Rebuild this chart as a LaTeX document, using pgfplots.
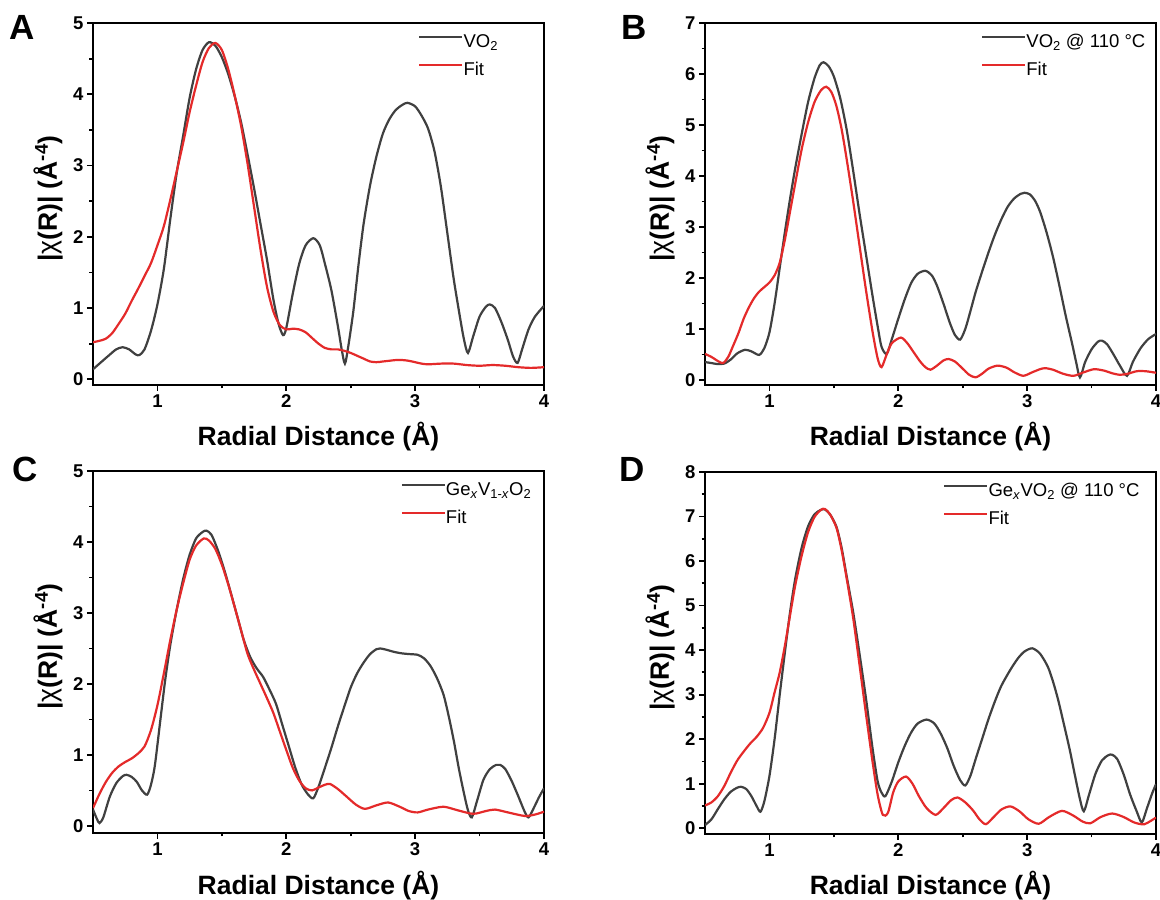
\documentclass[border=0pt]{standalone}
\usepackage{fontspec}
\setmainfont{Liberation Sans}
\usepackage{pgfplots}
\pgfplotsset{compat=1.18}

\definecolor{dgray}{RGB}{64,64,64}
\definecolor{fitred}{RGB}{228,42,42}

\pgfplotsset{
  panel/.style={
    scale only axis, width=451pt, height=362pt,
    xmin=0.5, xmax=4, xtick={1,2,3,4},
    minor x tick num=1, minor y tick num=1,
    tick align=outside, xtick pos=left, ytick pos=left,
    major tick length=6pt, minor tick length=3.5pt,
    every tick/.style={black, line width=1.8pt},
    axis line style={line width=2.2pt},
    tick label style={font=\bfseries\fontsize{18.5}{18.5}\selectfont},
    /pgf/number format/assume math mode=true,
    xlabel={Radial Distance (Å)},
    ylabel={|{\mdseries χ}(R)| (Å\textsuperscript{-4})},
    label style={font=\bfseries\fontsize{26.5}{26.5}\selectfont},
    xlabel style={at={(axis description cs:0.5,0)}, anchor=base, yshift=-61pt},
    ylabel style={at={(axis description cs:-0.08,0.515)}, anchor=base},
    legend style={draw=none, fill=none, anchor=north west, inner sep=0pt,
      font=\fontsize{18.5}{18.5}\selectfont,
      nodes={inner sep=0pt, text height=14pt, text depth=4pt},
      row sep=10pt,
      /tikz/every even column/.append style={column sep=4pt}},
    legend cell align=left,
    legend image code/.code={\draw[#1, line width=2.2pt] (0pt,6pt) -- (43pt,6pt);},
    data/.style={dgray, line width=2.2pt, smooth, tension=0.45},
    fit/.style={fitred, line width=2.2pt, smooth, tension=0.45},
  }
}

\begin{document}
\begin{tikzpicture}[x=1pt,y=1pt]

% ---------- A ----------
\begin{axis}[panel, at={(93pt,515pt)}, anchor=south west,
  ymin=-0.08, ymax=5, ytick={0,...,5}, legend style={at={(0.721,0.971)}}]
\addplot[data] coordinates {
(0.50,0.14)(0.55,0.22)(0.62,0.33)(0.68,0.42)(0.73,0.45)(0.78,0.42)(0.83,0.35)(0.86,0.34)
(0.90,0.42)(0.95,0.68)(1.00,1.05)(1.05,1.55)(1.10,2.25)(1.15,2.90)(1.20,3.42)(1.25,3.95)
(1.30,4.35)(1.35,4.62)(1.40,4.73)(1.45,4.68)(1.50,4.52)(1.55,4.28)(1.60,3.97)(1.65,3.60)
(1.70,3.15)(1.75,2.68)(1.80,2.18)(1.85,1.68)(1.90,1.12)(1.94,0.78)(1.975,0.62)(2.00,0.72)
(2.05,1.20)(2.10,1.62)(2.15,1.88)(2.21,1.98)(2.26,1.88)(2.30,1.62)(2.35,1.25)(2.40,0.75)
(2.43,0.42)(2.455,0.22)(2.48,0.45)(2.52,0.95)(2.56,1.60)(2.60,2.18)(2.65,2.72)(2.70,3.13)
(2.75,3.45)(2.80,3.65)(2.85,3.78)(2.90,3.85)(2.94,3.88)(3.00,3.83)(3.05,3.70)(3.10,3.52)
(3.15,3.20)(3.20,2.70)(3.25,2.05)(3.30,1.40)(3.35,0.85)(3.38,0.55)(3.41,0.37)(3.45,0.60)
(3.50,0.88)(3.55,1.02)(3.58,1.05)(3.62,1.00)(3.67,0.80)(3.72,0.55)(3.76,0.32)(3.795,0.23)
(3.83,0.42)(3.88,0.70)(3.93,0.88)(4.00,1.03)
};
\addplot[fit] coordinates {
(0.50,0.52)(0.55,0.54)(0.60,0.57)(0.65,0.65)(0.70,0.78)(0.75,0.92)(0.80,1.10)(0.85,1.27)
(0.90,1.45)(0.95,1.63)(1.00,1.88)(1.05,2.15)(1.10,2.52)(1.15,2.92)(1.20,3.32)(1.25,3.75)
(1.30,4.12)(1.35,4.45)(1.40,4.65)(1.45,4.72)(1.50,4.62)(1.55,4.35)(1.60,3.98)(1.65,3.55)
(1.70,3.02)(1.75,2.42)(1.80,1.82)(1.85,1.30)(1.90,0.95)(1.95,0.76)(2.00,0.70)(2.05,0.71)
(2.10,0.70)(2.15,0.66)(2.20,0.58)(2.25,0.50)(2.30,0.44)(2.35,0.42)(2.40,0.42)(2.45,0.40)
(2.50,0.37)(2.55,0.33)(2.60,0.29)(2.65,0.25)(2.70,0.24)(2.75,0.25)(2.80,0.26)(2.85,0.27)
(2.90,0.27)(2.95,0.26)(3.00,0.24)(3.05,0.22)(3.10,0.21)(3.20,0.22)(3.30,0.22)(3.40,0.20)
(3.50,0.19)(3.60,0.20)(3.70,0.19)(3.80,0.17)(3.90,0.16)(4.00,0.17)
};
\legend{VO\textsubscript{2}, Fit}
\end{axis}

% ---------- B ----------
\begin{axis}[panel, at={(705pt,515pt)}, anchor=south west,
  ymin=-0.1, ymax=7, ytick={0,...,7}, legend style={at={(0.612,0.971)}}]
\addplot[data] coordinates {
(0.50,0.35)(0.55,0.33)(0.60,0.31)(0.65,0.32)(0.70,0.40)(0.75,0.52)(0.81,0.59)(0.86,0.56)
(0.92,0.49)(0.96,0.62)(1.00,0.93)(1.04,1.50)(1.08,2.20)(1.12,2.90)(1.16,3.55)(1.20,4.15)
(1.25,4.82)(1.30,5.45)(1.35,5.92)(1.39,6.17)(1.42,6.23)(1.46,6.15)(1.50,5.95)(1.55,5.52)
(1.60,4.90)(1.65,4.10)(1.70,3.25)(1.75,2.45)(1.80,1.65)(1.84,1.05)(1.87,0.65)(1.91,0.51)
(1.95,0.80)(2.00,1.20)(2.05,1.58)(2.10,1.90)(2.15,2.08)(2.21,2.14)(2.26,2.05)(2.30,1.85)
(2.35,1.50)(2.40,1.12)(2.44,0.88)(2.48,0.79)(2.52,1.00)(2.56,1.35)(2.60,1.72)(2.65,2.12)
(2.70,2.50)(2.75,2.85)(2.80,3.15)(2.85,3.40)(2.90,3.56)(2.95,3.65)(2.98,3.67)(3.02,3.64)
(3.06,3.52)(3.10,3.30)(3.15,2.90)(3.20,2.42)(3.25,1.85)(3.30,1.25)(3.35,0.70)(3.38,0.35)
(3.41,0.05)(3.45,0.35)(3.50,0.60)(3.55,0.75)(3.58,0.77)(3.62,0.70)(3.67,0.50)(3.72,0.28)
(3.775,0.08)(3.82,0.35)(3.88,0.62)(3.94,0.80)(4.00,0.90)
};
\addplot[fit] coordinates {
(0.50,0.51)(0.55,0.45)(0.60,0.37)(0.64,0.33)(0.68,0.45)(0.72,0.68)(0.76,0.92)(0.80,1.20)
(0.84,1.42)(0.88,1.60)(0.92,1.73)(0.96,1.82)(1.00,1.91)(1.04,2.05)(1.08,2.30)(1.12,2.75)
(1.16,3.30)(1.20,3.85)(1.25,4.52)(1.30,5.05)(1.35,5.45)(1.40,5.68)(1.44,5.75)(1.48,5.65)
(1.52,5.37)(1.56,4.92)(1.60,4.32)(1.65,3.50)(1.70,2.62)(1.75,1.75)(1.80,0.95)(1.84,0.42)
(1.87,0.25)(1.91,0.50)(1.95,0.72)(2.02,0.83)(2.07,0.72)(2.12,0.54)(2.17,0.36)(2.21,0.25)
(2.25,0.20)(2.30,0.28)(2.35,0.38)(2.39,0.41)(2.44,0.36)(2.50,0.22)(2.55,0.10)(2.60,0.05)
(2.65,0.12)(2.70,0.22)(2.77,0.28)(2.84,0.24)(2.90,0.15)(2.97,0.08)(3.04,0.15)(3.10,0.21)
(3.14,0.23)(3.20,0.20)(3.28,0.12)(3.36,0.08)(3.44,0.15)(3.52,0.21)(3.60,0.18)(3.66,0.13)
(3.72,0.10)(3.78,0.12)(3.85,0.17)(3.92,0.17)(4.00,0.14)
};
\legend{VO\textsubscript{2} @ 110 °C, Fit}
\end{axis}

% ---------- C ----------
\begin{axis}[panel, at={(93pt,67pt)}, anchor=south west,
  ymin=-0.1, ymax=5, ytick={0,...,5}, legend style={at={(0.682,0.971)}}]
\addplot[data] coordinates {
(0.50,0.23)(0.53,0.10)(0.55,0.04)(0.58,0.12)(0.63,0.41)(0.68,0.60)(0.73,0.70)(0.76,0.72)
(0.80,0.69)(0.84,0.62)(0.88,0.50)(0.92,0.44)(0.95,0.58)(0.98,0.85)(1.02,1.45)(1.06,2.05)
(1.10,2.55)(1.15,3.05)(1.20,3.48)(1.25,3.82)(1.30,4.05)(1.35,4.14)(1.38,4.16)(1.42,4.10)
(1.47,3.88)(1.52,3.60)(1.57,3.28)(1.62,2.95)(1.67,2.62)(1.72,2.38)(1.77,2.22)(1.82,2.10)
(1.87,1.92)(1.92,1.72)(1.97,1.42)(2.02,1.12)(2.07,0.82)(2.12,0.58)(2.17,0.44)(2.21,0.39)
(2.25,0.55)(2.30,0.82)(2.35,1.10)(2.40,1.40)(2.45,1.68)(2.50,1.95)(2.55,2.15)(2.60,2.30)
(2.65,2.42)(2.70,2.49)(2.73,2.50)(2.78,2.48)(2.84,2.45)(2.90,2.43)(2.96,2.42)(3.02,2.41)
(3.07,2.36)(3.12,2.25)(3.17,2.08)(3.22,1.85)(3.26,1.55)(3.30,1.20)(3.34,0.80)(3.38,0.45)
(3.41,0.22)(3.44,0.12)(3.48,0.35)(3.53,0.65)(3.58,0.80)(3.63,0.86)(3.66,0.86)(3.70,0.80)
(3.75,0.63)(3.80,0.42)(3.85,0.20)(3.88,0.12)(3.92,0.25)(3.96,0.40)(4.00,0.53)
};
\addplot[fit] coordinates {
(0.50,0.25)(0.55,0.45)(0.60,0.62)(0.65,0.75)(0.70,0.84)(0.75,0.90)(0.80,0.95)(0.85,1.02)
(0.90,1.12)(0.95,1.35)(1.00,1.70)(1.05,2.15)(1.10,2.62)(1.15,3.05)(1.20,3.42)(1.25,3.75)
(1.30,3.95)(1.36,4.05)(1.40,4.02)(1.45,3.90)(1.50,3.68)(1.55,3.40)(1.60,3.08)(1.65,2.75)
(1.70,2.42)(1.75,2.20)(1.80,2.00)(1.85,1.80)(1.90,1.59)(1.95,1.33)(2.00,1.07)(2.05,0.82)
(2.10,0.64)(2.15,0.53)(2.20,0.50)(2.25,0.54)(2.30,0.58)(2.34,0.59)(2.40,0.52)(2.47,0.41)
(2.54,0.30)(2.61,0.24)(2.70,0.29)(2.79,0.33)(2.88,0.27)(2.95,0.21)(3.02,0.19)(3.10,0.23)
(3.22,0.27)(3.33,0.22)(3.45,0.17)(3.55,0.21)(3.62,0.23)(3.72,0.19)(3.85,0.14)(3.93,0.16)
(4.00,0.20)
};
\legend{Ge\textsubscript{\textit{x}}V\textsubscript{1-\textit{x}}O\textsubscript{2}, Fit}
\end{axis}

% ---------- D ----------
\begin{axis}[panel, at={(705pt,66pt)}, anchor=south west,
  ymin=-0.13, ymax=8, ytick={0,...,8}, legend style={at={(0.528,0.971)}}]
\addplot[data] coordinates {
(0.50,0.07)(0.55,0.20)(0.60,0.43)(0.65,0.65)(0.70,0.82)(0.75,0.91)(0.78,0.93)(0.82,0.88)
(0.86,0.72)(0.90,0.50)(0.93,0.37)(0.96,0.60)(1.00,1.17)(1.04,2.00)(1.08,3.00)(1.12,3.95)
(1.16,4.85)(1.20,5.60)(1.25,6.30)(1.30,6.78)(1.35,7.05)(1.40,7.15)(1.43,7.16)(1.47,7.05)
(1.52,6.77)(1.56,6.30)(1.60,5.65)(1.65,4.85)(1.70,3.90)(1.75,2.90)(1.80,1.80)(1.84,1.05)
(1.87,0.80)(1.90,0.72)(1.95,1.05)(2.00,1.48)(2.05,1.85)(2.10,2.15)(2.15,2.35)(2.22,2.44)
(2.28,2.35)(2.33,2.12)(2.38,1.80)(2.43,1.40)(2.48,1.08)(2.52,0.96)(2.56,1.18)(2.60,1.55)
(2.65,2.00)(2.70,2.45)(2.75,2.85)(2.80,3.20)(2.87,3.56)(2.93,3.82)(2.98,3.97)(3.04,4.04)
(3.10,3.92)(3.16,3.63)(3.20,3.30)(3.24,2.89)(3.28,2.40)(3.33,1.77)(3.37,1.20)(3.41,0.65)
(3.44,0.38)(3.48,0.75)(3.53,1.22)(3.58,1.52)(3.63,1.64)(3.66,1.65)(3.70,1.55)(3.75,1.20)
(3.80,0.75)(3.85,0.38)(3.89,0.13)(3.93,0.45)(3.97,0.78)(4.00,0.99)
};
\addplot[fit] coordinates {
(0.50,0.51)(0.55,0.58)(0.60,0.72)(0.65,0.95)(0.70,1.25)(0.75,1.52)(0.80,1.72)(0.85,1.90)
(0.90,2.05)(0.95,2.25)(1.00,2.59)(1.04,3.05)(1.08,3.50)(1.12,4.10)(1.16,4.78)(1.20,5.45)
(1.25,6.12)(1.30,6.65)(1.35,6.99)(1.40,7.15)(1.43,7.17)(1.47,7.05)(1.52,6.75)(1.56,6.25)
(1.60,5.60)(1.65,4.72)(1.70,3.65)(1.75,2.55)(1.80,1.50)(1.84,0.75)(1.88,0.30)(1.92,0.35)
(1.96,0.80)(2.00,1.05)(2.06,1.16)(2.11,1.00)(2.16,0.72)(2.22,0.45)(2.29,0.30)(2.35,0.45)
(2.41,0.63)(2.46,0.69)(2.52,0.58)(2.58,0.40)(2.63,0.20)(2.68,0.09)(2.74,0.25)(2.80,0.42)
(2.87,0.49)(2.94,0.38)(3.01,0.20)(3.09,0.10)(3.17,0.25)(3.27,0.39)(3.36,0.28)(3.43,0.15)
(3.49,0.11)(3.57,0.25)(3.66,0.33)(3.75,0.25)(3.83,0.13)(3.91,0.09)(4.00,0.24)
};
\legend{Ge\textsubscript{\textit{x}}VO\textsubscript{2} @ 110 °C, Fit}
\end{axis}

% panel letters
\node[anchor=base west, inner sep=0pt, font=\bfseries\fontsize{35}{35}\selectfont] at (9pt,860pt) {A};
\node[anchor=base west, inner sep=0pt, font=\bfseries\fontsize{35}{35}\selectfont] at (621pt,860pt) {B};
\node[anchor=base west, inner sep=0pt, font=\bfseries\fontsize{35}{35}\selectfont] at (12pt,418pt) {C};
\node[anchor=base west, inner sep=0pt, font=\bfseries\fontsize{35}{35}\selectfont] at (619pt,418pt) {D};

\pgfresetboundingbox
\path (0pt,0pt) rectangle (1160pt,900pt);
\end{tikzpicture}
\end{document}
